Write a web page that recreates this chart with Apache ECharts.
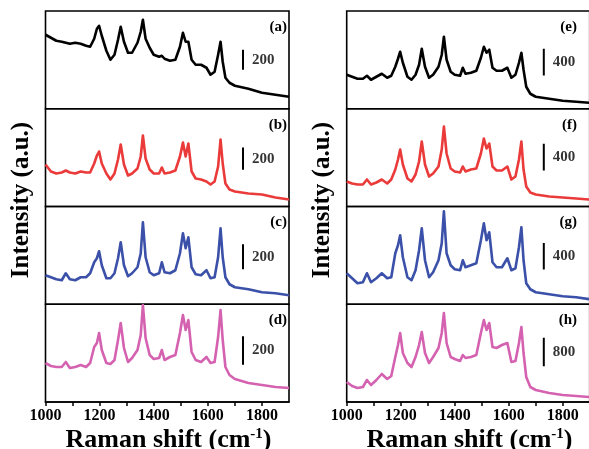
<!DOCTYPE html>
<html>
<head>
<meta charset="utf-8">
<script src="https://cdn.jsdelivr.net/npm/echarts@6/dist/echarts.min.js"></script>
<style>
html,body{margin:0;padding:0;background:#fff;}
#chart{width:589px;height:449px;}
</style>
</head>
<body>
<div id="chart"></div>
<script>
// ---------------- DATA ----------------
const waveNumbers = [1000,1020,1040,1060,1075,1090,1110,1130,1150,1165,
  1180,1190,1198,1208,1225,1240,1255,1268,1278,1290,
  1305,1320,1340,1352,1360,1370,1385,1400,1420,1430,
  1440,1460,1480,1497,1508,1518,1528,1540,1555,1575,
  1595,1610,1625,1638,1647,1655,1665,1680,1700,1750,
  1800,1850,1900];

const specA = [740,710,680,670,660,650,660,650,630,620,
  700,800,830,730,580,490,540,690,820,670,
  560,560,660,770,890,700,610,540,520,530,
  500,480,490,620,760,670,670,490,440,440,
  410,340,370,540,670,470,310,260,230,200,
  160,140,120];
const specB = [378,315,297,306,324,306,297,315,306,306,
  387,459,495,387,297,243,297,423,558,378,
  279,297,342,450,639,432,333,297,297,351,
  297,306,324,450,576,450,567,315,252,243,
  225,198,225,360,603,387,207,153,135,117,
  108,81,63];
const specC = [232,216,200,192,248,200,192,216,216,248,
  336,368,424,312,208,208,248,368,496,312,
  224,248,296,408,656,376,256,232,248,336,
  256,248,272,408,568,448,536,296,240,232,
  272,208,216,376,608,376,216,160,136,120,
  96,88,72];
const specD = [273,252,245,245,280,238,245,259,245,273,
  385,413,483,364,273,266,294,434,553,378,
  280,308,364,469,679,448,329,301,308,364,
  294,315,329,483,609,504,574,350,294,280,
  315,273,280,455,644,434,245,189,161,133,
  119,105,98];
const specE = [510,480,450,450,495,435,480,525,465,495,
  630,750,855,690,480,435,510,660,900,630,
  465,510,630,810,1080,735,555,510,495,615,
  525,540,570,765,930,840,885,615,570,570,
  615,465,510,690,840,585,330,225,180,150,
  120,105,90];
const specF = [375,345,330,330,405,330,360,405,345,405,
  555,705,855,630,420,375,480,675,975,630,
  450,495,600,855,1200,795,570,525,510,600,
  525,555,570,795,1020,870,945,600,540,540,
  600,405,450,705,975,555,300,210,180,150,
  135,120,105];
const specG = [465,390,315,330,465,330,390,465,390,405,
  765,885,1035,705,405,360,510,810,1140,660,
  405,480,660,915,1395,765,585,525,510,660,
  555,585,615,960,1215,960,1080,630,555,555,
  690,510,540,855,1155,660,315,225,180,150,
  120,105,75];
const specH = [560,448,392,420,616,476,616,784,644,728,
  1260,1596,1932,1372,1092,980,1260,1596,1960,1372,
  1092,1260,1512,1932,2492,1652,1260,1204,1148,1316,
  1232,1260,1316,1932,2296,2016,2212,1540,1512,1596,
  1652,1120,1148,1652,2100,1372,700,420,336,252,
  196,168,140];

const panelLabels = ['(a)','(b)','(c)','(d)','(e)','(f)','(g)','(h)'];
const scaleBarSize = [200,200,200,200,400,400,400,800];
const scaleBarStart = [390,330,280,260,500,540,520,1000];
const xTickLabels = ['1000','1200','1400','1600','1800'];
const xTitle = 'Raman shift (cm{sup|-1})';
const yTitle = 'Intensity (a.u.)';

// ---------------- LAYOUT / STYLE ----------------
const spectra = [specA,specB,specC,specD,specE,specF,specG,specH];
const FONT = '"Liberation Serif","Times New Roman",serif';
const lineColors = ['#000000','#ea3a3a','#3b50a8','#d462b0'];
const yMax = [977.5, 879.75, 782, 684.25, 1466.25, 1466.25, 1466.25, 2737];
const panelLeft = [45.5, 346.7];
const panelWidth = [243.5, 243];
const topY = 11, rowH = 97.75;
const SCALE_BAR_X = 1730;

const grid = [], xAxis = [], yAxis = [], series = [], graphic = [];
for (let i = 0; i < 8; i++) {
  const p = i < 4 ? 0 : 1, r = i % 4, bottom = r === 3;
  grid.push({left: panelLeft[p], top: topY + r*rowH, width: panelWidth[p], height: rowH,
    show: true, borderColor: '#000', borderWidth: 1.6, backgroundColor: 'transparent',
    containLabel: false, outerBoundsMode: 'none'});
  xAxis.push({gridIndex: i, type: 'value', min: 1000, max: 1900, interval: 100,
    axisLine: {show: bottom, onZero: false, lineStyle: {color: '#000', width: 1.6}},
    axisTick: {show: bottom, inside: false, length: 4, lineStyle: {color: '#000', width: 1.5}},
    axisLabel: {show: bottom, margin: 6, showMaxLabel: false,
      formatter: v => xTickLabels.includes(String(v)) ? String(v) : '',
      fontFamily: FONT, fontWeight: 'bold', fontSize: 16, color: '#000'},
    splitLine: {show: false}, minorTick: {show: false}});
  yAxis.push({gridIndex: i, type: 'value', min: 0, max: yMax[i],
    axisLine: {show: false}, axisTick: {show: false}, axisLabel: {show: false}, splitLine: {show: false}});
  series.push({type: 'line', xAxisIndex: i, yAxisIndex: i, symbol: 'none', silent: true,
    data: waveNumbers.map((w, k) => [w, spectra[i][k]]),
    lineStyle: {color: lineColors[r], width: 2.6, join: 'round'}, clip: true, z: 3});
  const lo = scaleBarStart[i], sz = scaleBarSize[i];
  series.push({type: 'line', xAxisIndex: i, yAxisIndex: i, symbol: 'none', silent: true,
    data: [[SCALE_BAR_X, lo], [SCALE_BAR_X, lo + sz]],
    lineStyle: {color: '#000', width: 2}, z: 4});
  series.push({type: 'scatter', xAxisIndex: i, yAxisIndex: i, symbolSize: 0, silent: true,
    data: [[SCALE_BAR_X, lo + sz/2]],
    label: {show: true, position: 'right', distance: 9, formatter: String(sz),
      fontFamily: FONT, fontWeight: 'bold', fontSize: 15, color: '#000'}, z: 4});
  graphic.push({type: 'text', x: p === 0 ? 287 : 577, y: 27 + r*rowH, silent: true,
    style: {text: panelLabels[i], fontFamily: FONT, fontWeight: 'bold', fontSize: 15, fill: '#000',
      align: 'right', verticalAlign: 'middle', textAlign: 'right', textVerticalAlign: 'middle'}});
}
[22, 323].forEach(x => graphic.push({type: 'text', x: x, y: 200, rotation: Math.PI/2, silent: true,
  style: {text: yTitle, fontFamily: FONT, fontWeight: 'bold', fontSize: 25, fill: '#000',
    align: 'center', verticalAlign: 'middle', textAlign: 'center', textVerticalAlign: 'middle'}}));
[168.5, 469.5].forEach(x => graphic.push({type: 'text', x: x, y: 440, silent: true,
  style: {text: xTitle, fontFamily: FONT, fontWeight: 'bold', fontSize: 26, fill: '#000',
    align: 'center', verticalAlign: 'middle', textAlign: 'center', textVerticalAlign: 'middle',
    rich: {sup: {fontFamily: FONT, fontWeight: 'bold', fontSize: 15, fill: '#000', verticalAlign: 'top'}}}}));

const chart = echarts.init(document.getElementById('chart'), null, {renderer: 'canvas'});
chart.setOption({animation: false, backgroundColor: '#fff', grid, xAxis, yAxis, series, graphic});
</script>
</body>
</html>
